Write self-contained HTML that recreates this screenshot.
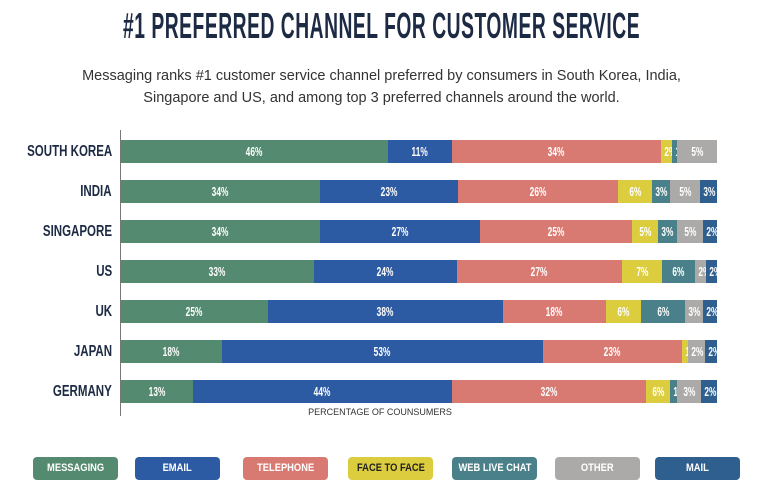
<!DOCTYPE html>
<html><head><meta charset="utf-8"><style>
body{margin:0;width:763px;height:500px;background:#fff;position:relative;overflow:hidden;font-family:"Liberation Sans",sans-serif}
.t{position:absolute;left:123px;top:8px;font-weight:bold;font-size:36px;color:#1c2a44;letter-spacing:1px;white-space:nowrap;transform-origin:0 0;line-height:36px}
.s{position:absolute;left:0;width:763px;text-align:center;top:65px;font-size:14.5px;line-height:22px;color:#333}
.ax{position:absolute;left:120px;top:130px;width:1px;height:286px;background:#777}
.c{position:absolute;right:651px;font-weight:bold;font-size:16px;color:#1c2a44;line-height:23px;white-space:nowrap;transform:scaleX(0.72);transform-origin:100% 50%}
.b{position:absolute;height:23px;line-height:23px;text-align:center;color:#fff;font-weight:bold;font-size:13px;white-space:nowrap}
.b span{display:inline-block;transform:scaleX(0.64)}
.xl{position:absolute;left:280px;width:200px;text-align:center;top:407px;font-size:9px;color:#333}
.l{position:absolute;top:457px;width:85px;height:23px;line-height:23px;border-radius:4px;text-align:center;color:#fff;font-weight:bold;font-size:11px;white-space:nowrap}
.l span{display:inline-block;transform:scaleX(0.85)}
</style></head><body>
<div class="t" id="t">#1 PREFERRED CHANNEL FOR CUSTOMER SERVICE</div>
<div class="s">Messaging ranks #1 customer service channel preferred by consumers in South Korea, India,<br>Singapore and US, and among top 3 preferred channels around the world.</div>
<div class="ax"></div>
<div id="bars"></div>
<div class="xl">PERCENTAGE OF COUNSUMERS</div>
<div class="l" style="left:33px;background:#548a6f"><span>MESSAGING</span></div>
<div class="l" style="left:135px;background:#2d5ba3"><span>EMAIL</span></div>
<div class="l" style="left:243px;background:#d97a72"><span>TELEPHONE</span></div>
<div class="l" style="left:348px;background:#dccd3f;color:#222"><span>FACE TO FACE</span></div>
<div class="l" style="left:452px;background:#4a8089"><span>WEB LIVE CHAT</span></div>
<div class="l" style="left:555px;background:#abaaa8"><span>OTHER</span></div>
<div class="l" style="left:655px;background:#2e5f8e"><span>MAIL</span></div>
<script>
var t=document.getElementById("t");t.style.transform="scaleX("+(517/t.offsetWidth)+")";
var C=["#548a6f","#2d5ba3","#d97a72","#dccd3f","#4a8089","#abaaa8","#2e5f8e"];
var rows=[
["SOUTH KOREA",[[388,0,"46%"],[452,1,"11%"],[661,2,"34%"],[672,3,"2%"],[677,4,"1%"],[717,5,"5%"]]],
["INDIA",[[320,0,"34%"],[458,1,"23%"],[618,2,"26%"],[652,3,"6%"],[670,4,"3%"],[700,5,"5%"],[717,6,"3%"]]],
["SINGAPORE",[[320,0,"34%"],[480,1,"27%"],[632,2,"25%"],[658,3,"5%"],[677,4,"3%"],[703,5,"5%"],[717,6,"2%"]]],
["US",[[314,0,"33%"],[457,1,"24%"],[622,2,"27%"],[662,3,"7%"],[695,4,"6%"],[706,5,"2%"],[717,6,"2%"]]],
["UK",[[268,0,"25%"],[503,1,"38%"],[606,2,"18%"],[641,3,"6%"],[685,4,"6%"],[703,5,"3%"],[717,6,"2%"]]],
["JAPAN",[[222,0,"18%"],[543,1,"53%"],[682,2,"23%"],[688,3,"1%"],[705,5,"2%"],[717,6,"2%"]]],
["GERMANY",[[193,0,"13%"],[452,1,"44%"],[646,2,"32%"],[670,3,"6%"],[677,4,"1%"],[701,5,"3%"],[717,6,"2%"]]]];
var h="";
rows.forEach(function(r,i){var y=140+i*40;h+='<div class="c" style="top:'+y+'px">'+r[0]+'</div>';var x=121;
r[1].forEach(function(s){h+='<div class="b" style="left:'+x+'px;top:'+y+'px;width:'+(s[0]-x)+'px;background:'+C[s[1]]+'"><span>'+s[2]+'</span></div>';x=s[0];});});
document.getElementById("bars").innerHTML=h;
</script>
</body></html>
